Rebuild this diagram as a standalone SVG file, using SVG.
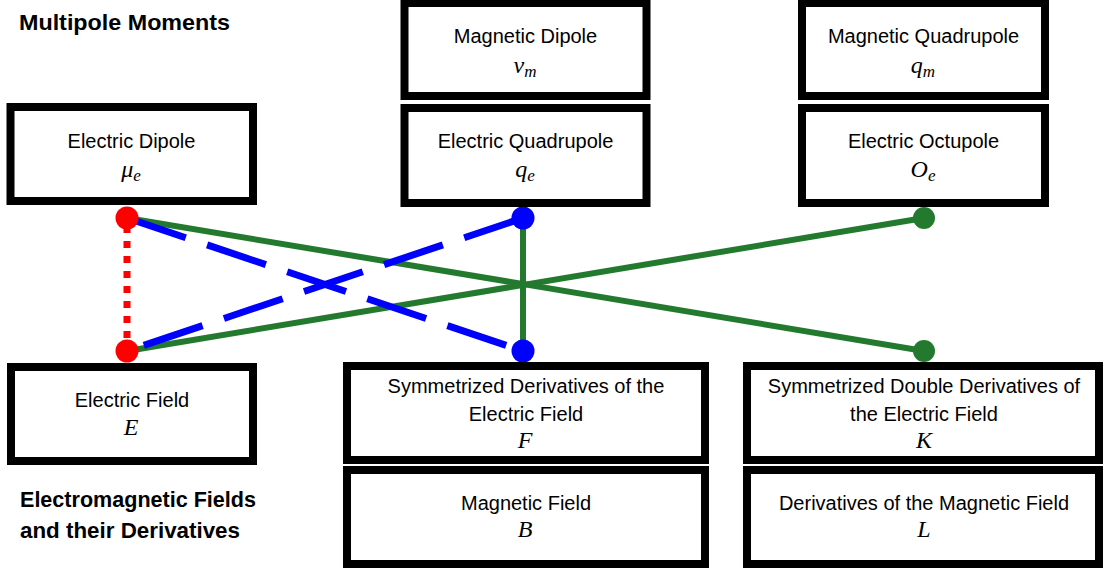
<svg xmlns="http://www.w3.org/2000/svg" width="1104" height="569" viewBox="0 0 1104 569">
<style>
.box{fill:#fff;stroke:#000;stroke-width:8}
.t{font-family:"Liberation Sans",Arial,sans-serif;font-size:20px;fill:#000;text-anchor:middle}
.h{font-family:"Liberation Sans",Arial,sans-serif;font-size:22px;font-weight:bold;fill:#000}
.m{font-family:"Liberation Serif","Times New Roman",serif;font-style:italic;font-size:24px;fill:#000;text-anchor:middle}
.s{font-size:17px}
.g{stroke:#237a2f;stroke-width:6;fill:none}
.b{stroke:#0000ff;stroke-width:7;fill:none;stroke-dasharray:62 22.5}
.r{stroke:#ff0000;stroke-width:7;fill:none;stroke-dasharray:7 8}
</style>
<rect width="1104" height="569" fill="#fff"/>
<g id="heading-multipole"><text class="h" x="19" y="30" textLength="211" lengthAdjust="spacingAndGlyphs">Multipole Moments</text></g>
<g id="heading-fields"><text class="h" x="20" y="507" textLength="236" lengthAdjust="spacingAndGlyphs">Electromagnetic Fields</text><text class="h" x="20" y="538" textLength="220" lengthAdjust="spacingAndGlyphs">and their Derivatives</text></g>

<g id="connectors">
<line class="g" x1="127" y1="218" x2="924" y2="351"/>
<line class="g" x1="127" y1="351" x2="924" y2="218"/>
<line class="g" x1="523" y1="218" x2="523" y2="351"/>
<line class="b" x1="127" y1="218" x2="523" y2="351"/>
<line class="b" x1="523" y1="218" x2="127" y2="351"/>
<line class="r" x1="127" y1="226" x2="127" y2="351"/>
<circle cx="127" cy="218" r="11.5" fill="#ff0000"/>
<circle cx="127" cy="351" r="11.5" fill="#ff0000"/>
<circle cx="523" cy="218" r="11.5" fill="#0000ff"/>
<circle cx="523" cy="351" r="11.5" fill="#0000ff"/>
<circle cx="924" cy="218" r="11" fill="#237a2f"/>
<circle cx="924" cy="351" r="11" fill="#237a2f"/>
</g>

<g id="magnetic-dipole"><rect class="box" x="404.5" y="3" width="242" height="93"/><text class="t" x="525.5" y="43">Magnetic Dipole</text><text class="m" x="525" y="73">ν<tspan class="s" dy="4">m</tspan></text></g>
<g id="magnetic-quadrupole"><rect class="box" x="802" y="3" width="243" height="93"/><text class="t" x="923.5" y="43">Magnetic Quadrupole</text><text class="m" x="923" y="73">q<tspan class="s" dy="4">m</tspan></text></g>
<g id="electric-dipole"><rect class="box" x="10.5" y="107" width="242.5" height="94"/><text class="t" x="131.5" y="148">Electric Dipole</text><text class="m" x="131" y="177">μ<tspan class="s" dy="4">e</tspan></text></g>
<g id="electric-quadrupole"><rect class="box" x="404.5" y="108" width="242" height="95"/><text class="t" x="525.5" y="148">Electric Quadrupole</text><text class="m" x="525" y="177">q<tspan class="s" dy="4">e</tspan></text></g>
<g id="electric-octupole"><rect class="box" x="802" y="108" width="243" height="95"/><text class="t" x="923.5" y="148">Electric Octupole</text><text class="m" x="923" y="177">O<tspan class="s" dy="4">e</tspan></text></g>
<g id="electric-field"><rect class="box" x="11" y="367" width="242" height="94"/><text class="t" x="132" y="407">Electric Field</text><text class="m" x="131" y="435">E</text></g>
<g id="sym-derivatives"><rect class="box" x="347" y="366" width="358" height="94"/><text class="t" x="526" y="393">Symmetrized Derivatives of the</text><text class="t" x="526" y="421">Electric Field</text><text class="m" x="525" y="448">F</text></g>
<g id="magnetic-field"><rect class="box" x="347" y="470" width="358" height="94"/><text class="t" x="526" y="510">Magnetic Field</text><text class="m" x="525" y="537">B</text></g>
<g id="sym-double-derivatives"><rect class="box" x="747" y="366" width="352" height="94"/><text class="t" x="924" y="393">Symmetrized Double Derivatives of</text><text class="t" x="924" y="421">the Electric Field</text><text class="m" x="924" y="448">K</text></g>
<g id="magnetic-derivatives"><rect class="box" x="747" y="470" width="352" height="94"/><text class="t" x="924" y="510">Derivatives of the Magnetic Field</text><text class="m" x="924" y="537">L</text></g>
</svg>
